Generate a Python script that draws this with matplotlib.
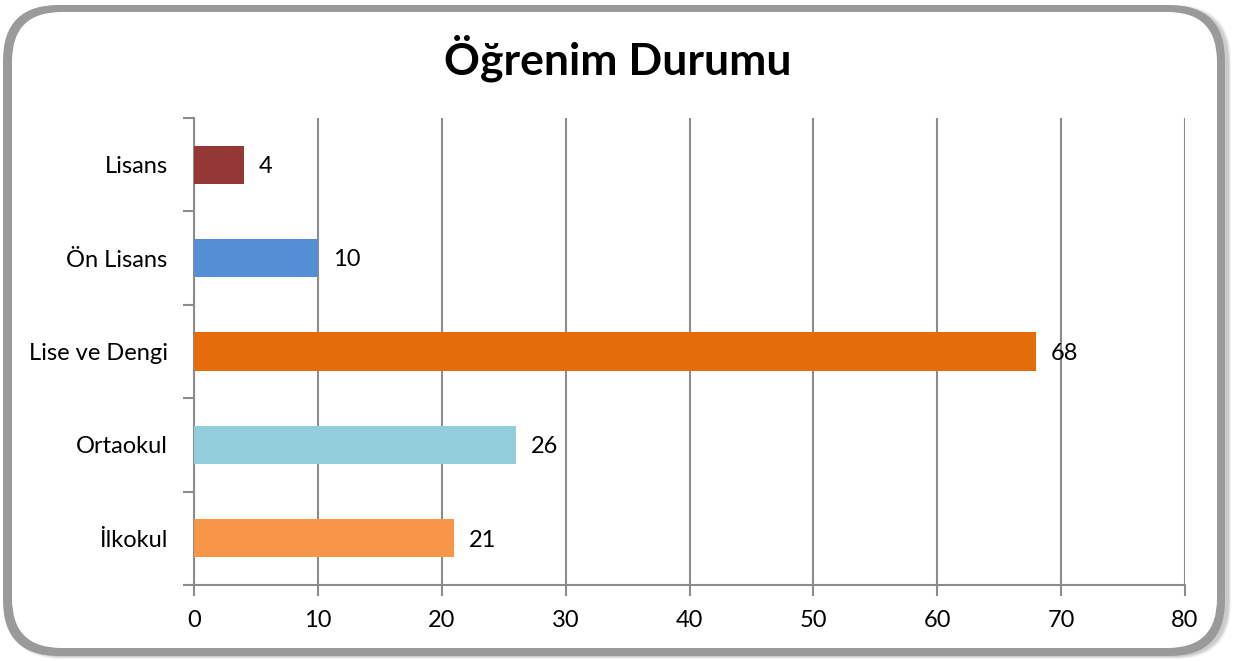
import matplotlib
matplotlib.use("Agg")
import matplotlib.pyplot as plt
from matplotlib.patches import FancyBboxPatch
import numpy as np

categories = ["İlkokul", "Ortaokul", "Lise ve Dengi", "Ön Lisans", "Lisans"]
values = [21, 26, 68, 10, 4]
colors = ["#F79646", "#92CDDC", "#E46C0A", "#558ED5", "#953735"]
xticks = [0, 10, 20, 30, 40, 50, 60, 70, 80]

plt.rcParams['font.family'] = ['Lato', 'DejaVu Sans']
grid_col = "#8C8C8C"

fig = plt.figure(figsize=(12.35, 6.61), dpi=100)
fig.patch.set_facecolor("white")

# rounded frame with soft shadow
W, H = 1235, 661
for i, a in enumerate([0.10, 0.15, 0.2]):
    sh = FancyBboxPatch(((6 + i) / W, (2 + i) / H), (1225 - 2 * i) / W, (654 - 2 * i) / H,
                        boxstyle="round,pad=0,rounding_size=0.045", transform=fig.transFigure,
                        facecolor="#7F7F7F", edgecolor="none", alpha=a, mutation_aspect=W / H)
    fig.patches.append(sh)
frame = FancyBboxPatch((3 / W, 5 / H), 1222 / W, 651 / H,
                       boxstyle="round,pad=0,rounding_size=0.045", transform=fig.transFigure,
                       facecolor="#9A9A9A", edgecolor="none", mutation_aspect=W / H)
fig.patches.append(frame)
inner = FancyBboxPatch((12 / W, 13 / H), 1205 / W, 636 / H,
                       boxstyle="round,pad=0,rounding_size=0.04", transform=fig.transFigure,
                       facecolor="white", edgecolor="none", mutation_aspect=W / H)
fig.patches.append(inner)

ax = fig.add_axes([194 / W, 1 - 585 / H, (1185 - 194) / W, (585 - 118) / H])
ax.set_zorder(5)
ax.set_facecolor("none")
y = np.arange(len(categories))
ax.barh(y, values, height=0.41, color=colors, zorder=3)
for yi, v in zip(y, values):
    ax.text(v + 1.2, yi - 0.02, str(v), va="center", ha="left", fontsize=17, color="black")

ax.set_xlim(0, 80)
ax.set_ylim(-0.5, len(categories) - 0.5)
ax.set_xticks(xticks)
ax.set_xticklabels([str(t) for t in xticks], fontsize=17)
ax.set_yticks(y)
ax.set_yticklabels(categories, fontsize=17)
ax.tick_params(axis="y", length=0, pad=19)
ax.set_yticks(np.arange(-0.5, len(categories)), minor=True)
ax.tick_params(axis="y", which="minor", length=8, width=1.5, color=grid_col)
ax.tick_params(axis="x", length=8, width=1.5, color=grid_col, pad=10)
ax.grid(axis="x", color=grid_col, linewidth=1.5, zorder=0)
for s in ["top", "right"]:
    ax.spines[s].set_visible(False)
for s in ["left", "bottom"]:
    ax.spines[s].set_color(grid_col)
    ax.spines[s].set_linewidth(1.5)

fig.text(618 / W, 1 - 58 / H, "Öğrenim Durumu", ha="center", va="center",
         fontsize=32, fontweight="bold", zorder=5)

fig.savefig("out.png", dpi=100)
